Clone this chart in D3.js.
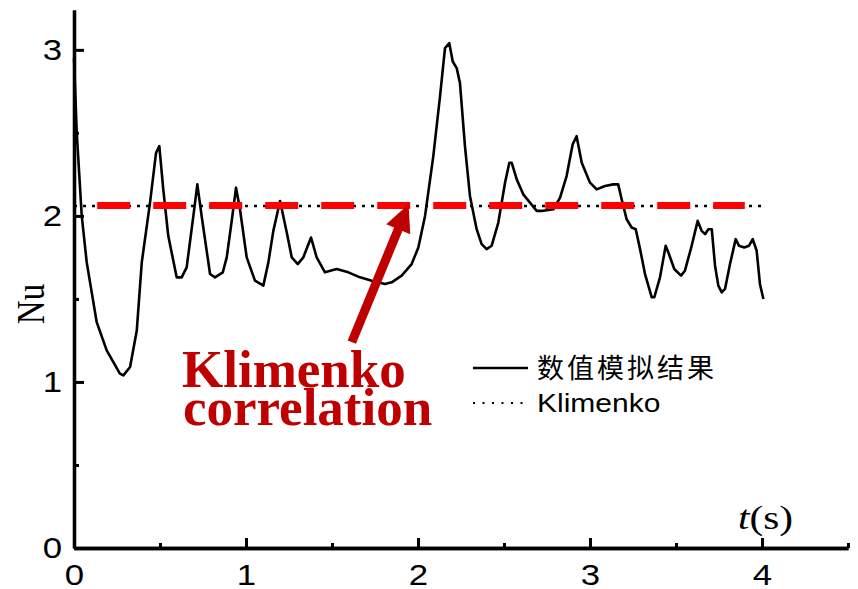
<!DOCTYPE html>
<html>
<head>
<meta charset="utf-8">
<script src="https://cdn.jsdelivr.net/npm/d3@7"></script>
<style>
  html, body { margin: 0; padding: 0; background: #fff; }
  svg { display: block; }
</style>
</head>
<body>
<svg id="chart" width="858" height="589"></svg>
<script>
// ---- data ----
const timeValues = [0, 0.016, 0.045, 0.074, 0.132, 0.190, 0.267, 0.287, 0.326, 0.365, 0.394, 0.442, 0.477, 0.496,
  0.519, 0.548, 0.597, 0.626, 0.655, 0.694, 0.717, 0.742, 0.791, 0.820, 0.865, 0.888, 0.917, 0.942, 0.965,
  1.004, 1.052, 1.101, 1.130, 1.159, 1.198, 1.237, 1.266, 1.301, 1.333, 1.378, 1.411, 1.459, 1.527, 1.595,
  1.663, 1.731, 1.808, 1.847, 1.905, 1.963, 2.002, 2.041, 2.089, 2.128, 2.157, 2.182, 2.202, 2.225, 2.244,
  2.273, 2.302, 2.341, 2.370, 2.399, 2.428, 2.467, 2.506, 2.531, 2.545, 2.574, 2.612, 2.651, 2.690, 2.719,
  2.787, 2.826, 2.864, 2.899, 2.922, 2.952, 3.000, 3.039, 3.087, 3.135, 3.164, 3.184, 3.213, 3.242, 3.266,
  3.291, 3.320, 3.359, 3.374, 3.407, 3.440, 3.459, 3.490, 3.529, 3.552, 3.591, 3.626, 3.649, 3.669, 3.688,
  3.708, 3.727, 3.746, 3.766, 3.785, 3.814, 3.847, 3.866, 3.897, 3.924, 3.946, 3.969, 3.988, 4.008];
const nuValues = [2.95, 2.50, 2.00, 1.72, 1.36, 1.19, 1.05, 1.04, 1.09, 1.31, 1.72, 2.08, 2.38, 2.42,
  2.16, 1.88, 1.63, 1.63, 1.69, 2.00, 2.19, 2.00, 1.65, 1.63, 1.66, 1.75, 1.97, 2.17, 2.04,
  1.75, 1.61, 1.58, 1.72, 1.91, 2.09, 1.90, 1.75, 1.71, 1.75, 1.87, 1.75, 1.66, 1.68, 1.66,
  1.63, 1.61, 1.59, 1.60, 1.64, 1.71, 1.81, 2.00, 2.36, 2.72, 3.01, 3.04, 2.93, 2.89, 2.80,
  2.42, 2.12, 1.92, 1.83, 1.80, 1.82, 1.96, 2.20, 2.32, 2.32, 2.22, 2.13, 2.08, 2.03, 2.03,
  2.04, 2.11, 2.24, 2.43, 2.48, 2.32, 2.20, 2.16, 2.18, 2.19, 2.19, 2.10, 1.98, 1.93, 1.92,
  1.80, 1.65, 1.51, 1.51, 1.63, 1.82, 1.77, 1.68, 1.64, 1.67, 1.82, 1.97, 1.91, 1.89, 1.92,
  1.92, 1.70, 1.58, 1.54, 1.56, 1.71, 1.86, 1.82, 1.81, 1.82, 1.86, 1.79, 1.59, 1.50];
const klimenkoNu = 2.06;
const klimenkoRange = [0, 4];          // extent of the dotted Klimenko line (t)
const correlationRange = [0.135, 3.9];  // extent of the red dashed highlight (t)
const xMajorTicks = [0, 1, 2, 3, 4];
const xMinorTicks = [0.5, 1.5, 2.5, 3.5, 4.5];
const yMajorTicks = [0, 1, 2, 3];
const yMinorTicks = [0.5, 1.5, 2.5];
const legendLabels = ["数值模拟结果", "Klimenko"];
const annotationLines = ["Klimenko", "correlation"];
const arrowFrom = [1.615, 1.24];  // [t, Nu]
const arrowTo = [1.945, 2.07];

// ---- layout ----
const svg = d3.select("#chart");
const x = d3.scaleLinear().domain([0, 4.5]).range([74, 848]);
const y = d3.scaleLinear().domain([0, 3.24]).range([548, 10]);
const numFont = "'Liberation Sans', Arial, sans-serif";
const serif = "'Liberation Serif', 'Times New Roman', serif";
const stretch = 1.2;

// Klimenko dotted line
svg.append("line")
  .attr("x1", x(klimenkoRange[0])).attr("x2", x(klimenkoRange[1]))
  .attr("y1", y(klimenkoNu)).attr("y2", y(klimenkoNu))
  .attr("stroke", "#000").attr("stroke-width", 2.4)
  .attr("stroke-dasharray", "3,6");

// Numerical curve
const pts = timeValues.map((t, i) => [t, nuValues[i]]);
svg.append("path")
  .datum(pts)
  .attr("d", d3.line().x(d => x(d[0])).y(d => y(d[1])))
  .attr("fill", "none").attr("stroke", "#000").attr("stroke-width", 2.6)
  .attr("stroke-linejoin", "round");

// Red dashed highlight
svg.append("line")
  .attr("x1", x(correlationRange[0])).attr("x2", x(correlationRange[1]))
  .attr("y1", y(klimenkoNu) - 0.5).attr("y2", y(klimenkoNu) - 0.5)
  .attr("stroke", "#ff0000").attr("stroke-width", 7)
  .attr("stroke-dasharray", "33,23");

// Axes
const xAxis = svg.append("g").attr("transform", `translate(0,${y(0)})`)
  .call(d3.axisBottom(x).tickValues(xMajorTicks).tickSize(-10).tickSizeOuter(0).tickPadding(16).tickFormat(d3.format("d")));
const xAxisMinor = svg.append("g").attr("transform", `translate(0,${y(0)})`)
  .call(d3.axisBottom(x).tickValues(xMinorTicks).tickSize(-5).tickSizeOuter(0).tickFormat(""));
const yAxis = svg.append("g").attr("transform", `translate(${x(0)},0)`)
  .call(d3.axisLeft(y).tickValues(yMajorTicks).tickSize(-10).tickSizeOuter(0).tickPadding(12).tickFormat(d3.format("d")));
const yAxisMinor = svg.append("g").attr("transform", `translate(${x(0)},0)`)
  .call(d3.axisLeft(y).tickValues(yMinorTicks).tickSize(-5).tickSizeOuter(0).tickFormat(""));
[xAxis, xAxisMinor, yAxis, yAxisMinor].forEach(g => {
  g.select(".domain").attr("stroke", "#000").attr("stroke-width", 3.3);
  g.selectAll(".tick line").attr("stroke", "#000").attr("stroke-width", 3);
  g.selectAll(".tick text").attr("font-family", numFont).attr("font-size", 29).attr("fill", "#000");
});
xAxis.selectAll(".tick text").attr("transform", `scale(${stretch},1)`);
yAxis.selectAll(".tick text").attr("x", null).attr("transform", `translate(-12,0) scale(${stretch},1)`);

// Axis titles
svg.append("text")
  .attr("transform", `translate(44,304) rotate(-90) scale(1,${stretch})`)
  .attr("text-anchor", "middle")
  .attr("font-family", serif).attr("font-size", 33).attr("fill", "#000")
  .text("Nu");
const tl = svg.append("text")
  .attr("transform", `translate(738,529) scale(${stretch + 0.05},1)`)
  .attr("font-family", serif).attr("font-size", 33).attr("fill", "#000");
tl.append("tspan").attr("font-style", "italic").text("t");
tl.append("tspan").text("(s)");

// Legend
const lgX0 = 473, lgX1 = 528;
svg.append("line").attr("x1", lgX0).attr("x2", lgX1).attr("y1", 368).attr("y2", 368)
  .attr("stroke", "#000").attr("stroke-width", 2.4);
svg.append("line").attr("x1", lgX0).attr("x2", lgX1).attr("y1", 403).attr("y2", 403)
  .attr("stroke", "#000").attr("stroke-width", 2).attr("stroke-dasharray", "2,7.5");
svg.append("text").attr("x", 537).attr("y", 378)
  .attr("font-family", "'Noto Sans CJK SC', sans-serif").attr("font-size", 27)
  .attr("letter-spacing", 3).attr("fill", "#000").text(legendLabels[0]);
svg.append("text").attr("transform", `translate(537,412) scale(${stretch},1)`)
  .attr("font-family", numFont).attr("font-size", 25).attr("fill", "#000").text(legendLabels[1]);

// Annotation arrow
const ax0 = x(arrowFrom[0]), ay0 = y(arrowFrom[1]);
const ax1 = x(arrowTo[0]), ay1 = y(arrowTo[1]);
const ang = Math.atan2(ay1 - ay0, ax1 - ax0);
const headLen = 27, headHalf = 13, shaftHalf = 4.5;
const ux = Math.cos(ang), uy = Math.sin(ang), nx = -uy, ny = ux;
const bx = ax1 - ux * headLen, by = ay1 - uy * headLen;
const arrowPts = [
  [ax0 + nx * shaftHalf, ay0 + ny * shaftHalf],
  [bx + nx * shaftHalf, by + ny * shaftHalf],
  [bx + nx * headHalf, by + ny * headHalf],
  [ax1, ay1],
  [bx - nx * headHalf, by - ny * headHalf],
  [bx - nx * shaftHalf, by - ny * shaftHalf],
  [ax0 - nx * shaftHalf, ay0 - ny * shaftHalf]
];
svg.append("polygon").attr("points", arrowPts.map(p => p.join(",")).join(" "))
  .attr("fill", "#c00000");

// Annotation text
const ann = svg.append("text")
  .attr("font-family", serif).attr("font-weight", "bold").attr("font-size", 53)
  .attr("fill", "#c00000");
ann.append("tspan").attr("x", 182).attr("y", 387).text(annotationLines[0]);
ann.append("tspan").attr("x", 183).attr("y", 425).text(annotationLines[1]);
</script>
</body>
</html>
